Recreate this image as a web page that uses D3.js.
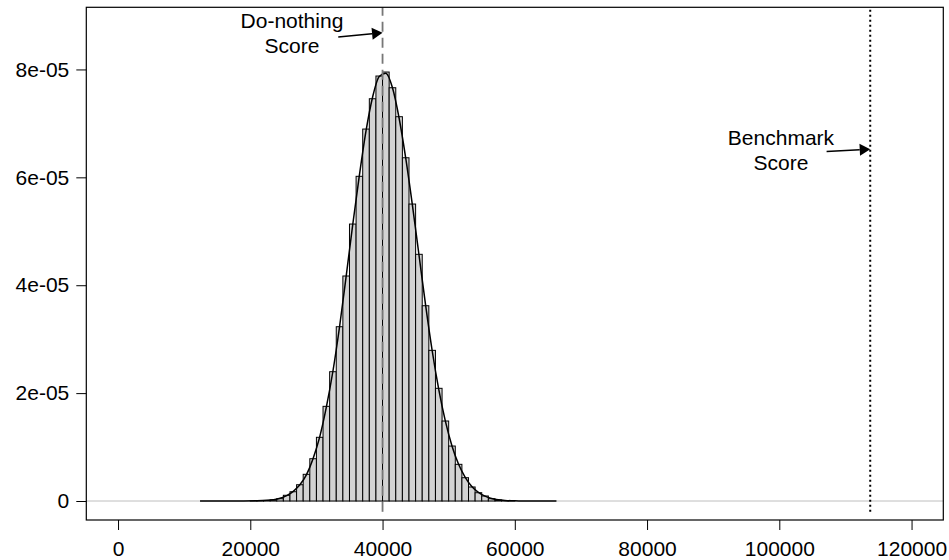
<!DOCTYPE html>
<html>
<head>
<meta charset="utf-8">
<script src="https://cdn.jsdelivr.net/npm/d3@7"></script>
<style>
  html, body { margin: 0; padding: 0; background: #fff; }
  svg { display: block; }
  text { font-family: "Liberation Sans", Arial, Helvetica, sans-serif; fill: #000; }
</style>
</head>
<body>
<svg id="chart" width="949" height="560"></svg>
<script>
// Histogram of simulated scores (bin width 1000), density per unit score
const binLower = [20000, 21000, 22000, 23000, 24000, 25000, 26000, 27000, 28000, 29000,
                  30000, 31000, 32000, 33000, 34000, 35000, 36000, 37000, 38000, 39000,
                  40000, 41000, 42000, 43000, 44000, 45000, 46000, 47000, 48000, 49000,
                  50000, 51000, 52000, 53000, 54000, 55000, 56000, 57000, 58000, 59000];
const binDensity = [1e-8, 3e-8, 8e-8, 2.1e-7, 4.3e-7, 1.06e-6, 1.72e-6, 3.02e-6, 4.95e-6, 7.84e-6,
                    1.181e-5, 1.755e-5, 2.397e-5, 3.231e-5, 4.171e-5, 5.134e-5, 6.019e-5, 6.895e-5, 7.457e-5, 7.878e-5,
                    7.952e-5, 7.661e-5, 7.124e-5, 6.363e-5, 5.505e-5, 4.573e-5, 3.620e-5, 2.793e-5, 2.089e-5, 1.483e-5,
                    1.019e-5, 6.80e-6, 4.32e-6, 2.60e-6, 1.54e-6, 9.3e-7, 4.3e-7, 1.9e-7, 8e-8, 3e-8];
const binWidth = 1000;

// Kernel density estimate of the same scores
const densityX = [12400, 16000, 19000, 21000, 22500, 23500, 24500, 25500, 26500, 27500,
                  28500, 29500, 30500, 31500, 32500, 33500, 34500, 35500, 36500, 37500,
                  38500, 39500, 40500, 41500, 42500, 43500, 44500, 45500, 46500, 47500,
                  48500, 49500, 50500, 51500, 52500, 53500, 54500, 55500, 56500, 57500,
                  58500, 60000, 62000, 66300];
const densityY = [0, 0, 1e-8, 4e-8, 1.2e-7, 2.5e-7, 5e-7, 1.0e-6, 1.8e-6, 3.0e-6,
                  4.9e-6, 7.9e-6, 1.19e-5, 1.74e-5, 2.41e-5, 3.23e-5, 4.17e-5, 5.13e-5, 6.04e-5, 6.86e-5,
                  7.49e-5, 7.87e-5, 7.93e-5, 7.66e-5, 7.10e-5, 6.36e-5, 5.50e-5, 4.57e-5, 3.64e-5, 2.79e-5,
                  2.07e-5, 1.48e-5, 1.02e-5, 6.8e-6, 4.4e-6, 2.7e-6, 1.6e-6, 9e-7, 4.8e-7, 2.4e-7,
                  1.1e-7, 3e-8, 1e-8, 0];

// Reference scores
const refNames = ["Do-nothing", "Benchmark"];
const refScores = [40000, 113750];

// Axis ticks
const xTicks = [0, 20000, 40000, 60000, 80000, 100000, 120000];
const xTickLabels = ["0", "20000", "40000", "60000", "80000", "100000", "120000"];
const yTicks = [0, 2e-5, 4e-5, 6e-5, 8e-5];
const yTickLabels = ["0", "2e-05", "4e-05", "6e-05", "8e-05"];

// Axis limits (extended 4% on each side)
const xLim = [0, 120000];
const yLim = [0, 8.8e-5];
const ext = (lim) => { const d = (lim[1] - lim[0]) * 0.04; return [lim[0] - d, lim[1] + d]; };

const svg = d3.select("#chart");
const box = { left: 86.3, right: 943.3, top: 7.3, bottom: 520 };

const x = d3.scaleLinear().domain(ext(xLim)).range([box.left, box.right]);
const y = d3.scaleLinear().domain(ext(yLim)).range([box.bottom, box.top]);

const FONT = 21;

// zero reference line
svg.append("line")
  .attr("x1", box.left).attr("x2", box.right)
  .attr("y1", y(0)).attr("y2", y(0))
  .attr("stroke", "#bebebe").attr("stroke-width", 1);

// histogram bars
svg.append("g").selectAll("rect")
  .data(binLower.map((b, i) => ({ b, d: binDensity[i] })))
  .join("rect")
  .attr("x", d => x(d.b))
  .attr("width", d => x(d.b + binWidth) - x(d.b))
  .attr("y", d => y(d.d))
  .attr("height", d => y(0) - y(d.d))
  .attr("fill", "#d3d3d3")
  .attr("stroke", "#000")
  .attr("stroke-width", 1);

// density curve
const line = d3.line()
  .x((d, i) => x(densityX[i]))
  .y(d => y(d))
  .curve(d3.curveMonotoneX);
svg.append("path")
  .attr("d", line(densityY))
  .attr("fill", "none")
  .attr("stroke", "#000")
  .attr("stroke-width", 1.5);

// reference score lines
const refBottom = -2e-6;
svg.append("line")
  .attr("x1", x(refScores[0])).attr("x2", x(refScores[0]))
  .attr("y1", y(refBottom)).attr("y2", box.top)
  .attr("stroke", "#777").attr("stroke-width", 1.8)
  .attr("stroke-dasharray", "10,6");
svg.append("line")
  .attr("x1", x(refScores[1])).attr("x2", x(refScores[1]))
  .attr("y1", y(refBottom)).attr("y2", box.top)
  .attr("stroke", "#000").attr("stroke-width", 2)
  .attr("stroke-dasharray", "2,3");

// annotations: label lines and arrow from label towards the reference line
const notes = [
  { lines: [refNames[0], "Score"], cx: 26300, baseY: 8.77e-5, from: [33300, 8.60e-5], to: refScores[0], toY: 8.68e-5 },
  { lines: [refNames[1], "Score"], cx: 100250, baseY: 6.60e-5, from: [107150, 6.48e-5], to: refScores[1], toY: 6.52e-5 }
];
notes.forEach(n => {
  const t = svg.append("text")
    .attr("x", x(n.cx)).attr("y", y(n.baseY))
    .attr("text-anchor", "middle")
    .style("font-size", FONT + "px");
  n.lines.forEach((s, i) => {
    t.append("tspan").attr("x", x(n.cx)).attr("dy", i === 0 ? 0 : 24.8).text(s);
  });
  const x0 = x(n.from[0]), y0 = y(n.from[1]);
  const x1 = x(n.to), y1 = y(n.toY);
  const ang = Math.atan2(y1 - y0, x1 - x0);
  const hl = 10.5, hw = 6;
  const bx = x1 - hl * Math.cos(ang), by = y1 - hl * Math.sin(ang);
  svg.append("line")
    .attr("x1", x0).attr("y1", y0).attr("x2", bx).attr("y2", by)
    .attr("stroke", "#000").attr("stroke-width", 1.5);
  const px = -Math.sin(ang), py = Math.cos(ang);
  svg.append("path")
    .attr("d", `M${x1},${y1}L${bx + hw * px},${by + hw * py}L${bx - hw * px},${by - hw * py}Z`)
    .attr("fill", "#000");
});

// frame
svg.append("rect")
  .attr("x", box.left).attr("y", box.top)
  .attr("width", box.right - box.left).attr("height", box.bottom - box.top)
  .attr("fill", "none").attr("stroke", "#000").attr("stroke-width", 1.2);

// x axis
const xAxis = d3.axisBottom(x)
  .tickValues(xTicks)
  .tickFormat((d, i) => xTickLabels[i])
  .tickSize(10).tickPadding(11).tickSizeOuter(0);
const gx = svg.append("g").attr("transform", `translate(0,${box.bottom})`).call(xAxis);
gx.select(".domain").remove();
gx.selectAll("line").attr("stroke", "#000");
gx.selectAll("text").style("font-size", FONT + "px")
  .style("font-family", '"Liberation Sans", Arial, sans-serif').attr("fill", "#000");

// y axis
const yAxis = d3.axisLeft(y)
  .tickValues(yTicks)
  .tickFormat((d, i) => yTickLabels[i])
  .tickSize(10).tickPadding(7).tickSizeOuter(0);
const gy = svg.append("g").attr("transform", `translate(${box.left},0)`).call(yAxis);
gy.select(".domain").remove();
gy.selectAll("line").attr("stroke", "#000");
gy.selectAll("text").style("font-size", FONT + "px")
  .style("font-family", '"Liberation Sans", Arial, sans-serif').attr("fill", "#000");
</script>
</body>
</html>
